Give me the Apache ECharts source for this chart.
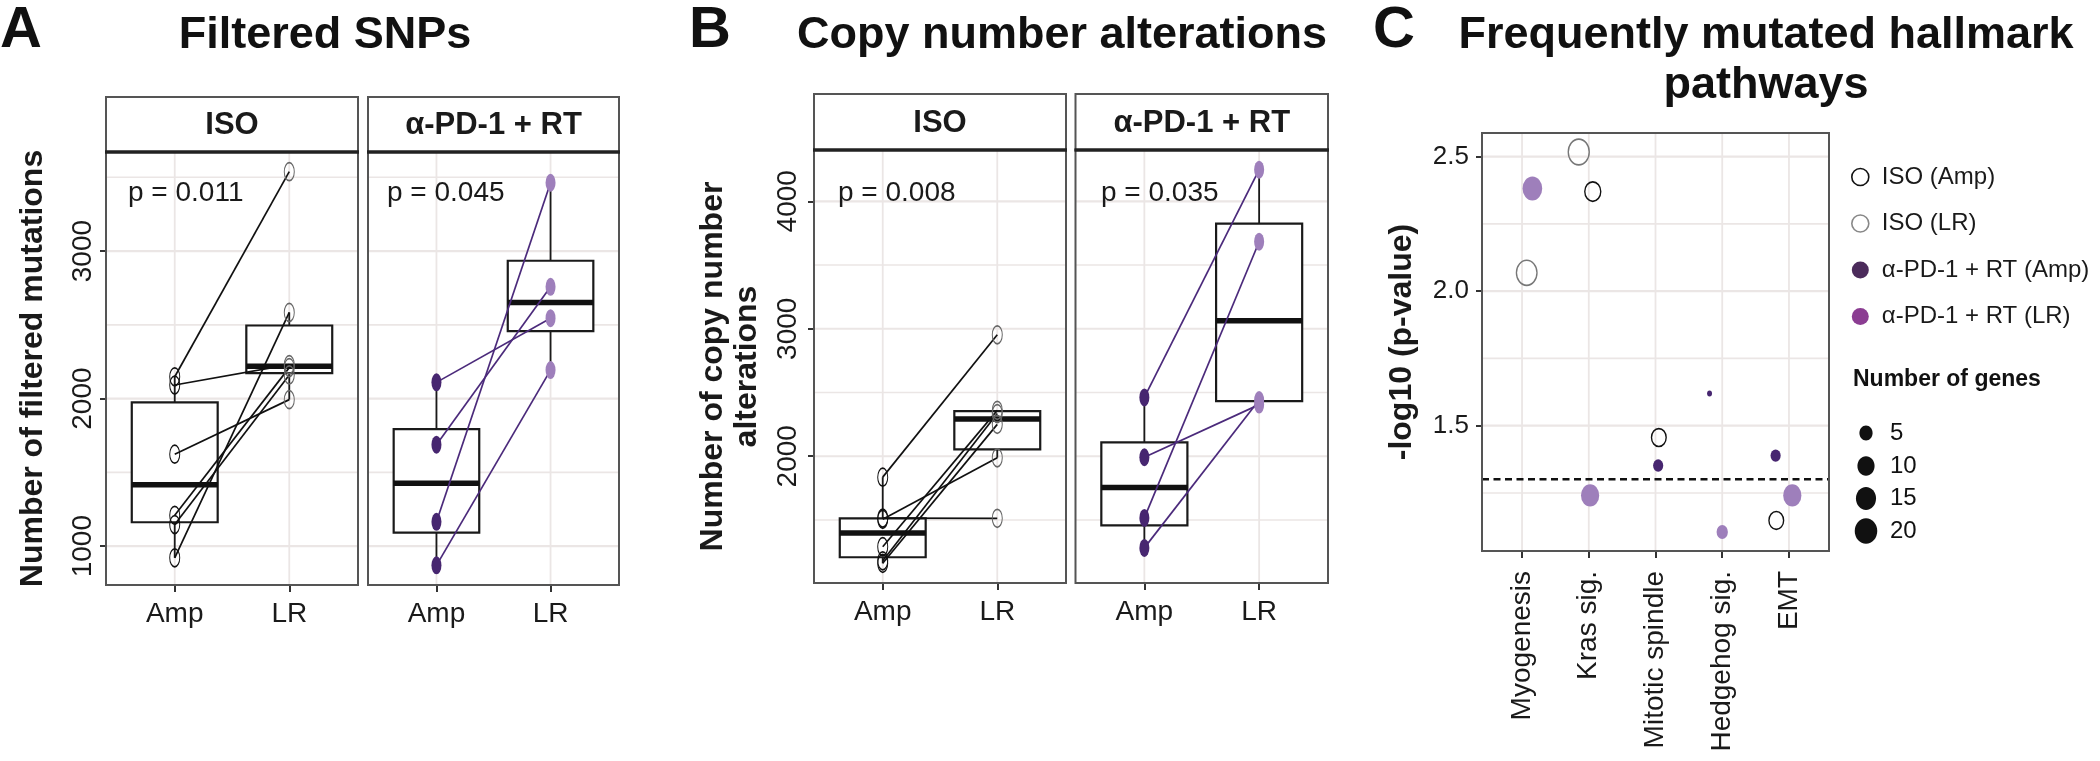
<!DOCTYPE html>
<html>
<head>
<meta charset="utf-8">
<script src="https://cdn.jsdelivr.net/npm/echarts@6/dist/echarts.min.js"></script>
<style>html,body{margin:0;padding:0;background:#fff}#c{width:2100px;height:761px}</style>
</head>
<body>
<div id="c"></div>
<script>
// ---------------- DATA ----------------
const sampleGroups = ['Amp', 'LR'];
const facetLabels = ['ISO', 'α-PD-1 + RT'];

// Panel A: filtered SNPs (paired: index i in Amp pairs with index i in LR)
const snpIsoAmp = [2148, 2092, 1623, 1209, 1146, 921];
const snpIsoLR  = [3538, 2230, 1993, 2210, 2160, 2584];
const snpPdAmp  = [2110, 1688, 1165, 870];
const snpPdLR   = [2545, 2758, 3463, 2193];
const snpPLabels = ['p = 0.011', 'p = 0.045'];
const snpTicks = [1000, 2000, 3000];
const snpGridVals = [1000, 1500, 2000, 2500, 3000, 3500];

// Panel B: copy number alterations
const cnaIsoAmp = [1836, 1515, 1505, 1290, 1180, 1160];
const cnaIsoLR  = [2953, 1513, 1988, 2360, 2335, 2250];
const cnaPdAmp  = [2461, 1992, 1516, 1281];
const cnaPdLR   = [4248, 2405, 3683, 2441];
const cnaPLabels = ['p = 0.008', 'p = 0.035'];
const cnaTicks = [2000, 3000, 4000];
const cnaGridVals = [1500, 2000, 2500, 3000, 3500, 4000];

// Panel C: hallmark pathways
const pathways = ['Myogenesis', 'Kras sig.', 'Mitotic spindle', 'Hedgehog sig.', 'EMT'];
const isoAmpCat = [2, 3, 5];
const isoAmpJitter = [0.06, 0.05, -0.19];
const isoAmpLogP = [2.370, 1.456, 1.148];
const isoAmpGenes = [10, 8, 8];
const isoLRCat = [1, 2];
const isoLRJitter = [0.07, -0.15];
const isoLRLogP = [2.068, 2.517];
const isoLRGenes = [19, 20];
const pdAmpCat = [3, 4, 5];
const pdAmpJitter = [0.04, -0.19, -0.20];
const pdAmpLogP = [1.352, 1.620, 1.389];
const pdAmpGenes = [3, 1, 3];
const pdLRCat = [1, 2, 4, 5];
const pdLRJitter = [0.155, 0.02, 0.0, 0.05];
const pdLRLogP = [2.381, 1.241, 1.105, 1.241];
const pdLRGenes = [17, 14, 4, 14];
const cTicks = [1.5, 2.0, 2.5];
const cGridVals = [1.25, 1.5, 1.75, 2.0, 2.25, 2.5];
const sigLevel = 0.05;
const sizeLegendVals = [5, 10, 15, 20];
const cSeriesNames = ['ISO (Amp)', 'ISO (LR)', 'α-PD-1 + RT (Amp)', 'α-PD-1 + RT (LR)'];

// ---------------- HELPERS ----------------
const FONT = '"Liberation Sans", Arial, Helvetica, sans-serif';
const GRID_C = '#ebe6e5';
const DARK_P = '#472670';
const LIGHT_P = '#9e7fbb';

function expand(vals) {
  const mn = Math.min(...vals), mx = Math.max(...vals), pad = 0.05 * (mx - mn);
  return [mn - pad, mx + pad];
}
function boxStats(vals) {
  const s = [...vals].sort((a, b) => a - b);
  const q = p => { const h = (s.length - 1) * p, l = Math.floor(h), u = Math.min(l + 1, s.length - 1); return s[l] + (h - l) * (s[u] - s[l]); };
  const q1 = q(0.25), md = q(0.5), q3 = q(0.75), iqr = q3 - q1;
  const lo = Math.min(...s.filter(v => v >= q1 - 1.5 * iqr));
  const hi = Math.max(...s.filter(v => v <= q3 + 1.5 * iqr));
  return [lo, q1, md, q3, hi];
}
function sizeFn(n) { return 6 + 4.5 * Math.sqrt(Math.max(n - 1, 0)); }

function renderGridLines(params, api) {
  const cs = params.coordSys;
  const kind = api.value(2);
  const p = api.coord([api.value(0), api.value(1)]);
  if (kind === 0) {
    return {type: 'line', shape: {x1: cs.x, y1: p[1], x2: cs.x + cs.width, y2: p[1]},
      style: {stroke: GRID_C, lineWidth: api.value(3) ? 2.2 : 1.6}};
  } else if (kind === 1) {
    return {type: 'line', shape: {x1: p[0], y1: cs.y, x2: p[0], y2: cs.y + cs.height},
      style: {stroke: GRID_C, lineWidth: 1.8}};
  }
  return {type: 'line', shape: {x1: cs.x, y1: p[1], x2: cs.x + cs.width, y2: p[1]},
    style: {stroke: '#111', lineWidth: 2.6, lineDash: [7, 4.5]}};
}
function renderBox(params, api) {
  const x = api.value(0);
  const lo = api.coord([x, api.value(1)]), q1 = api.coord([x, api.value(2)]);
  const md = api.coord([x, api.value(3)]), q3 = api.coord([x, api.value(4)]);
  const hi = api.coord([x, api.value(5)]);
  const w = api.size([0.75, 0])[0];
  const cx = md[0];
  const st = {stroke: '#1a1a1a', lineWidth: 1.8};
  return {type: 'group', children: [
    {type: 'line', shape: {x1: cx, y1: hi[1], x2: cx, y2: q3[1]}, style: st},
    {type: 'line', shape: {x1: cx, y1: q1[1], x2: cx, y2: lo[1]}, style: st},
    {type: 'rect', shape: {x: cx - w / 2, y: q3[1], width: w, height: q1[1] - q3[1]}, style: {fill: '#fff', stroke: '#1a1a1a', lineWidth: 2.2}},
    {type: 'line', shape: {x1: cx - w / 2, y1: md[1], x2: cx + w / 2, y2: md[1]}, style: {stroke: '#111', lineWidth: 5.5}}
  ]};
}

// ---------------- LAYOUT ----------------
const snpRange = expand([...snpIsoAmp, ...snpIsoLR, ...snpPdAmp, ...snpPdLR]);
const cnaRange = expand([...cnaIsoAmp, ...cnaIsoLR, ...cnaPdAmp, ...cnaPdLR]);
const cRange = expand([...isoAmpLogP, ...isoLRLogP, ...pdAmpLogP, ...pdLRLogP]);

const panels = [
  {left: 106, width: 252, top: 152, height: 433, stripTop: 97, facet: 0, amp: snpIsoAmp, lr: snpIsoLR, p: snpPLabels[0], pLeft: 128,
   ticks: snpTicks, gv: snpGridVals, range: snpRange, yName: 'Number of filtered mutations', nameGap: 56, labelMargin: 9},
  {left: 368, width: 251, top: 152, height: 433, stripTop: 97, facet: 1, amp: snpPdAmp, lr: snpPdLR, p: snpPLabels[1], pLeft: 387,
   ticks: snpTicks, gv: snpGridVals, range: snpRange},
  {left: 814, width: 252, top: 150, height: 433, stripTop: 94, facet: 0, amp: cnaIsoAmp, lr: cnaIsoLR, p: cnaPLabels[0], pLeft: 838,
   ticks: cnaTicks, gv: cnaGridVals, range: cnaRange, yName: 'Number of copy number\nalterations', nameGap: 50, labelMargin: 12},
  {left: 1075.5, width: 252.5, top: 150, height: 433, stripTop: 94, facet: 1, amp: cnaPdAmp, lr: cnaPdLR, p: cnaPLabels[1], pLeft: 1101,
   ticks: cnaTicks, gv: cnaGridVals, range: cnaRange}
];
const cGrid = {left: 1482, width: 347, top: 133, height: 418};

const grids = [], xAxes = [], yAxes = [], series = [], graphics = [];
const axisTickStyle = {color: '#333', width: 2};

panels.forEach((pn, i) => {
  const first = !!pn.yName;
  grids.push({left: pn.left, top: pn.top, width: pn.width, height: pn.height, containLabel: false, outerBoundsMode: 'none', show: false});
  xAxes.push({gridIndex: i, type: 'value', min: 0.4, max: 2.6,
    axisLine: {show: false}, splitLine: {show: false},
    axisTick: {show: true, customValues: [1, 2], length: 7, lineStyle: axisTickStyle},
    axisLabel: {show: true, customValues: [1, 2], formatter: v => sampleGroups[Math.round(v) - 1], fontSize: 28, color: '#1a1a1a', fontFamily: FONT, margin: 15}});
  yAxes.push({gridIndex: i, type: 'value', min: pn.range[0], max: pn.range[1],
    axisLine: {show: false}, splitLine: {show: false},
    axisTick: {show: first, customValues: pn.ticks, length: 6, lineStyle: axisTickStyle},
    axisLabel: {show: first, customValues: pn.ticks, formatter: v => String(Math.round(v)), rotate: 90, fontSize: 28, color: '#1a1a1a', fontFamily: FONT, margin: pn.labelMargin || 9},
    name: pn.yName || '', nameLocation: 'middle', nameRotate: 90, nameGap: pn.nameGap || 0,
    nameTextStyle: {fontSize: 32, fontWeight: 'bold', color: '#1a1a1a', fontFamily: FONT, lineHeight: 34}});
  // gridlines
  const gl = pn.gv.map(v => [0.4, v, 0, pn.ticks.includes(v) ? 1 : 0]).concat([1, 2].map(x => [x, pn.range[0], 1, 1]));
  series.push({type: 'custom', xAxisIndex: i, yAxisIndex: i, z: 1, silent: true, renderItem: renderGridLines,
    dimensions: ['x', 'y', 'kind', 'major'], encode: {x: 0, y: 1}, data: gl, clip: false});
  // boxes
  series.push({type: 'custom', xAxisIndex: i, yAxisIndex: i, z: 2, silent: true, renderItem: renderBox,
    encode: {x: 0, y: [1, 2, 3, 4, 5]}, data: [[1, ...boxStats(pn.amp)], [2, ...boxStats(pn.lr)]]});
  // paired lines
  const lineColor = pn.facet === 0 ? '#111' : '#4b2a7b';
  pn.amp.forEach((a, k) => {
    series.push({type: 'line', xAxisIndex: i, yAxisIndex: i, z: 3, silent: true, symbol: 'none',
      lineStyle: {color: lineColor, width: 1.7, opacity: 1}, data: [[1, a], [2, pn.lr[k]]]});
  });
  // points
  const ampStyle = pn.facet === 0 ? {color: 'rgba(255,255,255,0)', borderColor: '#111', borderWidth: 1.3, opacity: 1} : {color: DARK_P, opacity: 1};
  const lrStyle = pn.facet === 0 ? {color: 'rgba(255,255,255,0)', borderColor: '#666', borderWidth: 1.3, opacity: 1} : {color: LIGHT_P, opacity: 1};
  series.push({type: 'scatter', xAxisIndex: i, yAxisIndex: i, z: 4, silent: true, symbol: 'circle', symbolSize: [10, 18],
    itemStyle: ampStyle, data: pn.amp.map(v => [1, v])});
  series.push({type: 'scatter', xAxisIndex: i, yAxisIndex: i, z: 4, silent: true, symbol: 'circle', symbolSize: [10, 18],
    itemStyle: lrStyle, data: pn.lr.map(v => [2, v])});
  // strip + border + p label
  graphics.push({type: 'rect', z: 100, shape: {x: pn.left, y: pn.stripTop, width: pn.width, height: pn.top - pn.stripTop}, style: {fill: '#fff', stroke: '#555', lineWidth: 2}});
  graphics.push({type: 'line', z: 102, shape: {x1: pn.left - 1, y1: pn.top, x2: pn.left + pn.width + 1, y2: pn.top}, style: {stroke: '#222', lineWidth: 3.5}});
  graphics.push({type: 'rect', z: 101, shape: {x: pn.left, y: pn.top, width: pn.width, height: pn.height}, style: {fill: 'none', stroke: '#555', lineWidth: 2}});
  graphics.push({type: 'text', z: 103, style: {text: facetLabels[pn.facet], x: pn.left + pn.width / 2, y: (pn.stripTop + pn.top) / 2 + 1,
    align: 'center', verticalAlign: 'middle', font: 'bold 31px ' + FONT, fill: '#1a1a1a'}});
  graphics.push({type: 'text', z: 103, style: {text: pn.p, x: pn.pLeft, y: 193, align: 'left', verticalAlign: 'middle', font: '28px ' + FONT, fill: '#1a1a1a'}});
});

// Panel C
const ci = panels.length;
grids.push({left: cGrid.left, top: cGrid.top, width: cGrid.width, height: cGrid.height, containLabel: false, outerBoundsMode: 'none', show: false});
xAxes.push({gridIndex: ci, type: 'value', min: 0.4, max: pathways.length + 0.6,
  axisLine: {show: false}, splitLine: {show: false},
  axisTick: {show: true, customValues: pathways.map((_, k) => k + 1), length: 7, lineStyle: axisTickStyle},
  axisLabel: {show: true, customValues: pathways.map((_, k) => k + 1), formatter: v => pathways[Math.round(v) - 1], rotate: 90,
    fontSize: 28, color: '#1a1a1a', fontFamily: FONT, margin: 20}});
yAxes.push({gridIndex: ci, type: 'value', min: cRange[0], max: cRange[1],
  axisLine: {show: false}, splitLine: {show: false},
  axisTick: {show: true, customValues: cTicks, length: 6, lineStyle: axisTickStyle},
  axisLabel: {show: true, customValues: cTicks, formatter: v => v.toFixed(1), fontSize: 26, color: '#1a1a1a', fontFamily: FONT, margin: 13},
  name: '-log10 (p-value)', nameLocation: 'middle', nameRotate: 90, nameGap: 64,
  nameTextStyle: {fontSize: 32, fontWeight: 'bold', color: '#1a1a1a', fontFamily: FONT}});
const cgl = cGridVals.map(v => [0.4, v, 0, cTicks.includes(v) ? 1 : 0])
  .concat(pathways.map((_, k) => [k + 1, cRange[0], 1, 1]))
  .concat([[0.4, -Math.log10(sigLevel), 2, 1]]);
series.push({type: 'custom', xAxisIndex: ci, yAxisIndex: ci, z: 1, silent: true, renderItem: renderGridLines,
  dimensions: ['x', 'y', 'kind', 'major'], encode: {x: 0, y: 1}, data: cgl, clip: false});
function cData(cat, jit, lp, genes) { return cat.map((c, k) => [c + jit[k], lp[k], genes[k]]); }
const cSym = v => { const d = sizeFn(v[2]); return [d * 0.82, d]; };
const cStyles = [
  {color: 'rgba(255,255,255,0)', borderColor: '#111', borderWidth: 1.5, opacity: 1},
  {color: 'rgba(255,255,255,0)', borderColor: '#777', borderWidth: 1.5, opacity: 1},
  {color: DARK_P, opacity: 1},
  {color: LIGHT_P, opacity: 1}
];
const cDataSets = [
  cData(isoAmpCat, isoAmpJitter, isoAmpLogP, isoAmpGenes),
  cData(isoLRCat, isoLRJitter, isoLRLogP, isoLRGenes),
  cData(pdAmpCat, pdAmpJitter, pdAmpLogP, pdAmpGenes),
  cData(pdLRCat, pdLRJitter, pdLRLogP, pdLRGenes)
];
cSeriesNames.forEach((nm, k) => {
  series.push({name: nm, type: 'scatter', xAxisIndex: ci, yAxisIndex: ci, z: 4, silent: true, symbol: 'circle',
    symbolSize: cSym, itemStyle: cStyles[k], data: cDataSets[k]});
});
graphics.push({type: 'rect', z: 101, shape: {x: cGrid.left, y: cGrid.top, width: cGrid.width, height: cGrid.height}, style: {fill: 'none', stroke: '#555', lineWidth: 2}});

// Titles & panel letters
const titleFont = 'bold 45px ' + FONT;
const letterFont = 'bold 58px ' + FONT;
[['A', 0], ['B', 689], ['C', 1373]].forEach(([t, x]) => {
  graphics.push({type: 'text', z: 103, style: {text: t, x: x, y: 31, align: 'left', verticalAlign: 'middle', font: letterFont, fill: '#111'}});
});
graphics.push({type: 'text', z: 103, style: {text: 'Filtered SNPs', x: 325, y: 36, align: 'center', verticalAlign: 'middle', font: titleFont, fill: '#111'}});
graphics.push({type: 'text', z: 103, style: {text: 'Copy number alterations', x: 1062, y: 36, align: 'center', verticalAlign: 'middle', font: titleFont, fill: '#111'}});
graphics.push({type: 'text', z: 103, style: {text: 'Frequently mutated hallmark', x: 1766, y: 36, align: 'center', verticalAlign: 'middle', font: titleFont, fill: '#111'}});
graphics.push({type: 'text', z: 103, style: {text: 'pathways', x: 1766, y: 86, align: 'center', verticalAlign: 'middle', font: titleFont, fill: '#111'}});

// Size legend
graphics.push({type: 'text', z: 103, style: {text: 'Number of genes', x: 1853, y: 380, align: 'left', verticalAlign: 'middle', font: 'bold 23px ' + FONT, fill: '#111'}});
const sizeLegY = [433, 466, 498.5, 531];
sizeLegendVals.forEach((n, k) => {
  const d = sizeFn(n);
  graphics.push({type: 'ellipse', z: 103, shape: {cx: 1866, cy: sizeLegY[k], rx: d * 0.88 / 2, ry: d / 2}, style: {fill: '#111'}});
  graphics.push({type: 'text', z: 103, style: {text: String(n), x: 1890, y: sizeLegY[k], align: 'left', verticalAlign: 'middle', font: '24px ' + FONT, fill: '#111'}});
});

const option = {
  animation: false,
  backgroundColor: '#fff',
  textStyle: {fontFamily: FONT},
  grid: grids, xAxis: xAxes, yAxis: yAxes, series: series,
  legend: {
    orient: 'vertical', left: 1846, top: 160, itemWidth: 17, itemHeight: 17, itemGap: 22.5, icon: 'circle', selectedMode: false,
    textStyle: {fontSize: 24, color: '#1a1a1a', fontFamily: FONT, padding: [0, 0, 0, 8]},
    data: [
      {name: cSeriesNames[0], itemStyle: {color: '#fff', borderColor: '#111', borderWidth: 1.6, opacity: 1}},
      {name: cSeriesNames[1], itemStyle: {color: '#fff', borderColor: '#888', borderWidth: 1.6, opacity: 1}},
      {name: cSeriesNames[2], itemStyle: {color: '#4b2b5b', borderWidth: 0, opacity: 1}},
      {name: cSeriesNames[3], itemStyle: {color: '#8b3d92', borderWidth: 0, opacity: 1}}
    ]
  },
  graphic: {elements: graphics}
};
const chart = echarts.init(document.getElementById('c'), null, {renderer: 'canvas'});
chart.setOption(option);
</script>
</body>
</html>
